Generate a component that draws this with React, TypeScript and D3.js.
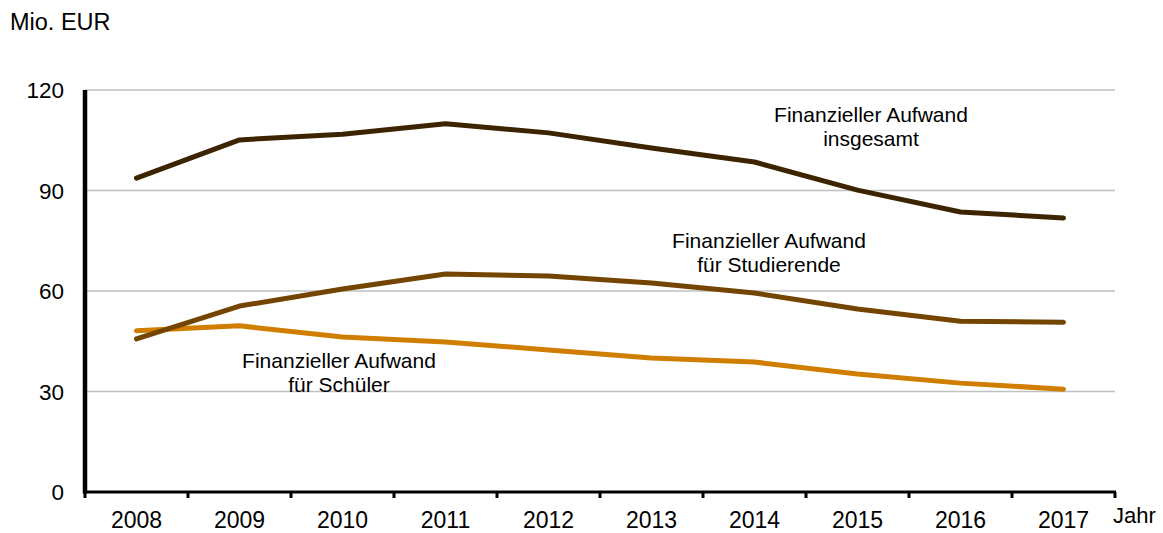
import React from "react";
import * as d3 from "d3";

const years = ["2008", "2009", "2010", "2011", "2012", "2013", "2014", "2015", "2016", "2017"];
const insgesamt = [93.7, 105.1, 106.8, 109.9, 107.2, 102.7, 98.5, 90.1, 83.6, 81.8];
const studierende = [45.7, 55.5, 60.6, 65.1, 64.5, 62.4, 59.4, 54.6, 51.0, 50.7];
const schueler = [48.1, 49.6, 46.3, 44.8, 42.4, 40.0, 38.8, 35.2, 32.5, 30.7];
const yTicks = [0, 30, 60, 90, 120];

const W = 1163, H = 533;
const L = 85, R = 1115, T = 90, B = 492;
const FONT = "Liberation Sans, Arial, sans-serif";

export default function App() {
  const x = d3.scaleBand<string>().domain(years).range([L, R]);
  const y = d3.scaleLinear().domain([0, 120]).range([B, T]);
  const line = d3.line<number>()
    .x((_, i) => (x(years[i]) as number) + x.bandwidth() / 2)
    .y((d) => y(d));
  const series = [
    { v: schueler, c: "#d07e00" },
    { v: studierende, c: "#744500" },
    { v: insgesamt, c: "#3d2400" },
  ];
  const boundaries = years.map((yr) => (x(yr) as number)).concat([R]);
  return (
    <svg width={W} height={H} style={{ position: "absolute", left: 0, top: 0 }} fontFamily={FONT}>
      <rect width={W} height={H} fill="#fff" />
      <text x={10} y={30} fontSize={23.5} fill="#000">Mio. EUR</text>
      {yTicks.filter((t) => t > 0).map((t) => (
        <line key={t} x1={L} x2={R} y1={y(t)} y2={y(t)} stroke="#c0c0c0" strokeWidth={1.3} />
      ))}
      {yTicks.map((t) => (
        <text key={t} x={64} y={y(t) + 8} fontSize={22.5} textAnchor="end" fill="#000">{t}</text>
      ))}
      {series.map((s, i) => (
        <path key={i} d={line(s.v) || ""} fill="none" stroke={s.c} strokeWidth={5}
          strokeLinejoin="round" strokeLinecap="round" />
      ))}
      <line x1={L} x2={L} y1={T} y2={B + 1.5} stroke="#000" strokeWidth={4.5} />
      <line x1={L - 2} x2={R + 1} y1={B} y2={B} stroke="#000" strokeWidth={3} />
      {boundaries.map((bx, i) => (
        <line key={i} x1={bx} x2={bx} y1={B} y2={B + 6} stroke="#000" strokeWidth={3} />
      ))}
      {years.map((yr) => (
        <text key={yr} x={(x(yr) as number) + x.bandwidth() / 2} y={528} fontSize={23}
          textAnchor="middle" fill="#000">{yr}</text>
      ))}
      <text x={1113} y={523} fontSize={22} fill="#000">Jahr</text>
      <g fontSize={21} textAnchor="middle" fill="#000">
        <text x={871} y={122}>Finanzieller Aufwand</text>
        <text x={871} y={146}>insgesamt</text>
        <text x={769} y={248}>Finanzieller Aufwand</text>
        <text x={769} y={272}>für Studierende</text>
        <text x={339} y={368}>Finanzieller Aufwand</text>
        <text x={339} y={392}>für Schüler</text>
      </g>
    </svg>
  );
}
